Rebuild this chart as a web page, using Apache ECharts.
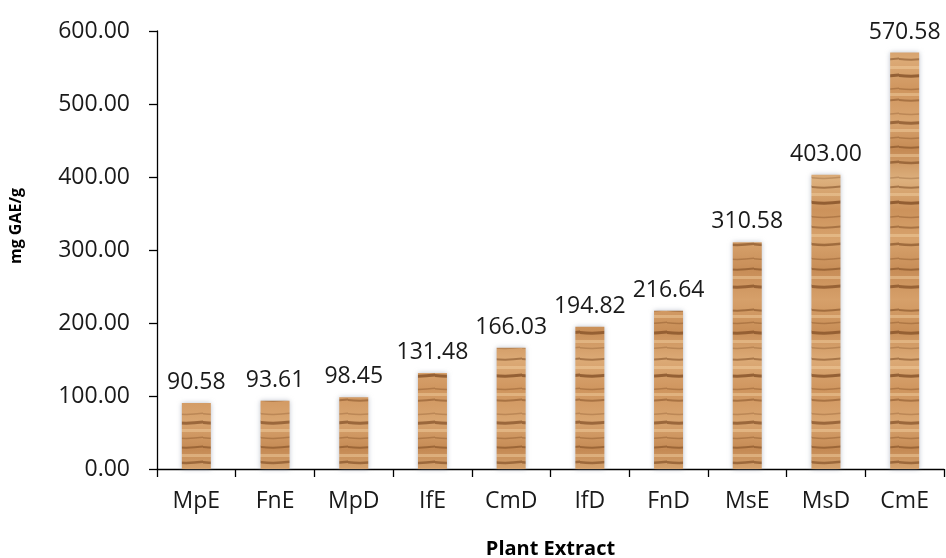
<!DOCTYPE html>
<html><head><meta charset="utf-8">
<script src="https://cdn.jsdelivr.net/npm/echarts@6/dist/echarts.min.js"></script>
<style>html,body{margin:0;padding:0;background:#fff}#c{width:946px;height:558px}</style>
</head><body><div id="c"></div>
<script>
const categories = ['MpE','FnE','MpD','IfE','CmD','IfD','FnD','MsE','MsD','CmE'];
const values = [90.58, 93.61, 98.45, 131.48, 166.03, 194.82, 216.64, 310.58, 403.00, 570.58];
const yTicks = [0, 100, 200, 300, 400, 500, 600];
const yTitle = 'mg GAE/g';
const xTitle = 'Plant Extract';

// wood-grain texture (decorative only)
function woodPattern(){
  const cv = document.createElement('canvas');
  cv.width = 29; cv.height = 300;
  const g = cv.getContext('2d');
  const base = g.createLinearGradient(0,0,0,300);
  const bands = ['#d6a06a','#c98f58','#dcaa76','#cf955e','#d9a570','#c58a54','#ddb07d','#cc925b','#d8a36d','#c78d57','#d6a06a'];
  bands.forEach((c,i)=>base.addColorStop(i/(bands.length-1), c));
  g.fillStyle = base; g.fillRect(0,0,29,300);
  const dark = [[9,2,0.45],[22,1.5,0.3],[31,3,0.55],[47,1.5,0.25],[58,2,0.45],[74,3,0.6],[88,1.5,0.3],[99,2,0.4],[113,1.5,0.25],[121,3,0.55],[137,1.5,0.3],[146,2,0.45],[161,2.5,0.5],[177,1.5,0.25],[186,2,0.45],[201,3,0.6],[216,1.5,0.3],[226,2,0.4],[243,2.5,0.5],[258,1.5,0.3],[268,2,0.45],[285,3,0.55]];
  dark.forEach(s=>{
    g.fillStyle='rgba(105,55,18,'+s[2]+')';
    g.beginPath();
    g.moveTo(0,s[0]); g.quadraticCurveTo(14,s[0]+1.5,29,s[0]-0.5);
    g.lineTo(29,s[0]-0.5+s[1]); g.quadraticCurveTo(14,s[0]+1.5+s[1],0,s[0]+s[1]);
    g.closePath(); g.fill();
  });
  [15,40,66,93,129,154,193,234,276].forEach(y=>{ g.fillStyle='rgba(245,210,165,0.45)'; g.fillRect(0,y,29,3); });
  return cv;
}
const pat = woodPattern();

const chart = echarts.init(document.getElementById('c'));
const FONT = '"Open Sans", sans-serif';
chart.setOption({
  animation: false,
  grid: {left: 157, right: 2, top: 31, bottom: 89, containLabel: false, outerBoundsMode: 'none'},
  graphic: [{
    type: 'text', x: 16, y: 226, rotation: Math.PI / 2,
    style: {text: yTitle, fontFamily: FONT, fontWeight: 'bold', fontSize: 16, fill: '#000',
      align: 'center', verticalAlign: 'middle'}
  }],
  xAxis: {
    type: 'category', data: categories,
    name: xTitle, nameLocation: 'middle', nameGap: 70,
    nameTextStyle: {fontFamily: FONT, fontWeight: 'bold', fontSize: 20, color: '#000'},
    axisLine: {lineStyle: {color: '#000', width: 1.3}},
    axisTick: {show: true, length: 8, lineStyle: {color: '#000', width: 1.3}},
    axisLabel: {fontFamily: FONT, fontSize: 23, color: '#1a1a1a', margin: 21}
  },
  yAxis: {
    type: 'value', min: 0, max: 600, interval: 100,
    axisLine: {show: true, lineStyle: {color: '#000', width: 1.3}},
    axisTick: {show: true, length: 8, lineStyle: {color: '#000', width: 1.3}},
    splitLine: {show: false},
    axisLabel: {fontFamily: FONT, fontSize: 23, color: '#1a1a1a', margin: 27,
      formatter: v => yTicks.includes(v) ? v.toFixed(2) : ''}
  },
  series: [{
    type: 'bar', data: values, barWidth: 29,
    itemStyle: {color: {image: pat, repeat: 'repeat'}, shadowColor: 'rgba(130,140,160,0.55)', shadowBlur: 5},
    label: {show: true, position: 'top', distance: 9, fontFamily: FONT, fontSize: 23, color: '#1a1a1a',
      formatter: p => p.value.toFixed(2)}
  }]
});
</script></body></html>
